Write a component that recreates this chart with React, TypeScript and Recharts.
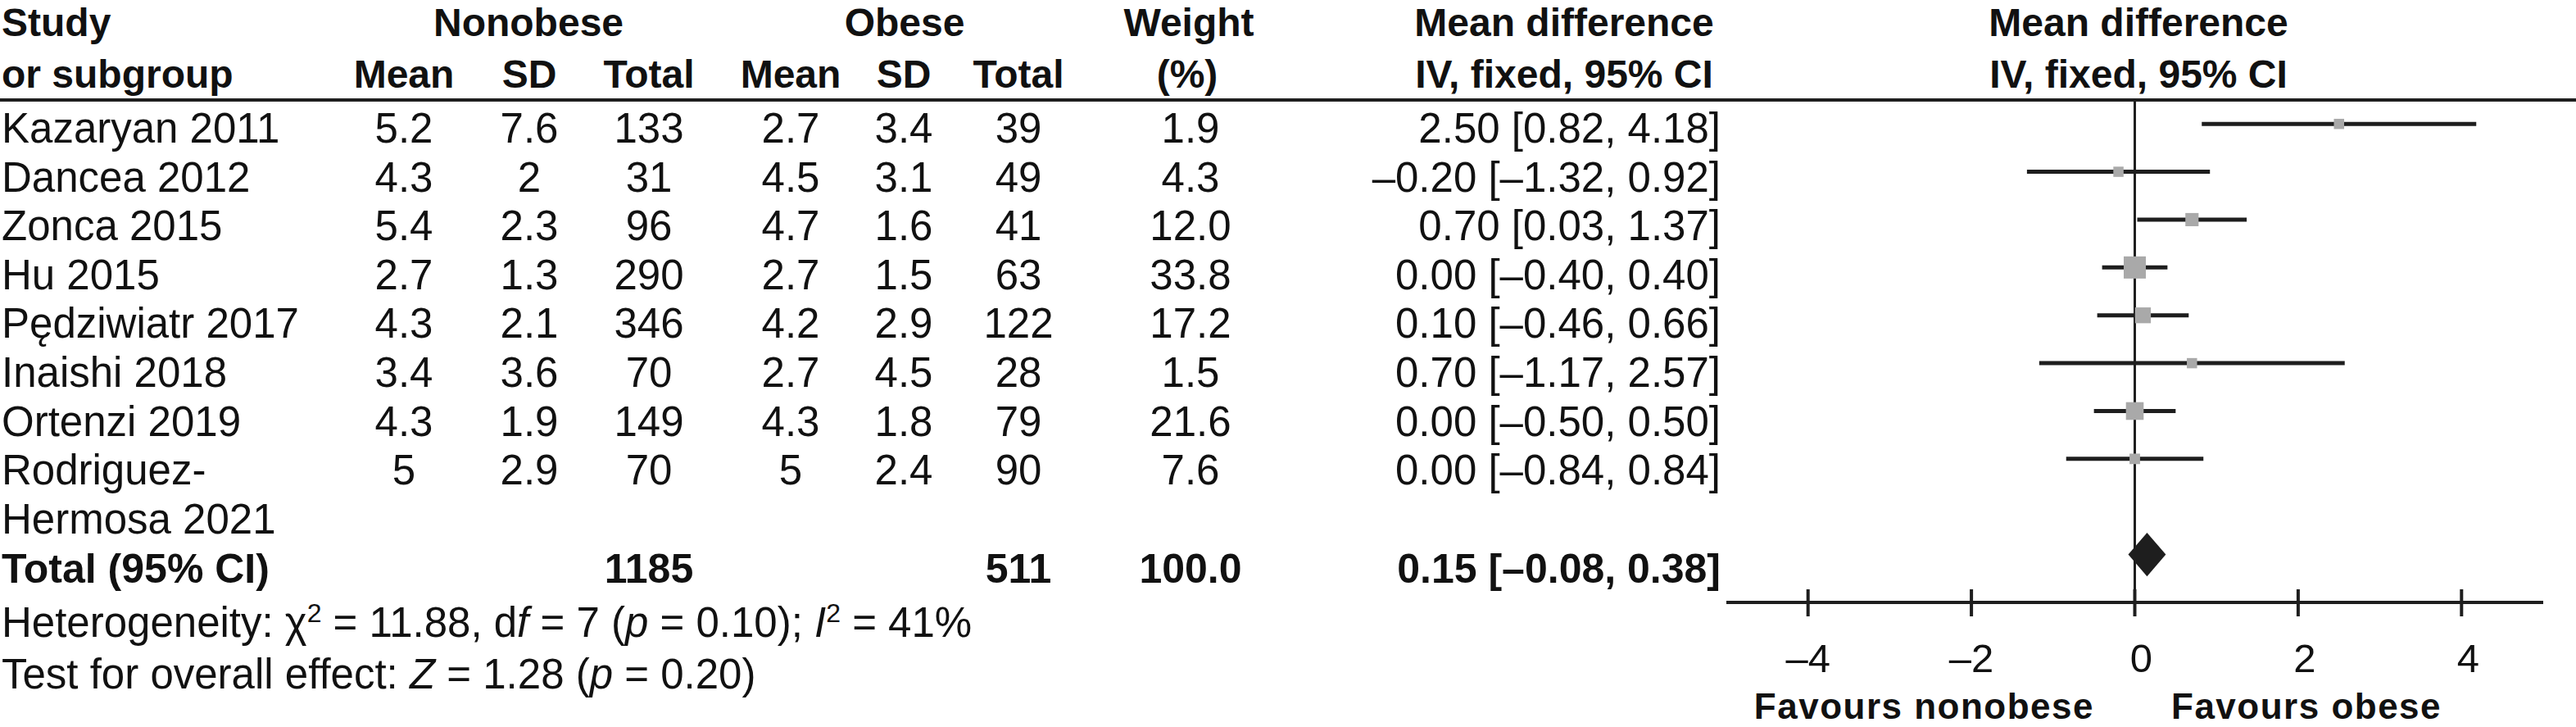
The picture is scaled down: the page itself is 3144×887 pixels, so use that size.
import React from 'react';
import { ScatterChart, Scatter, XAxis, YAxis, ErrorBar } from 'recharts';

// study level data
const studies = [
  'Kazaryan 2011',
  'Dancea 2012',
  'Zonca 2015',
  'Hu 2015',
  'Pędziwiatr 2017',
  'Inaishi 2018',
  'Ortenzi 2019',
  'Rodriguez-Hermosa 2021',
];
const nonobeseMean = [5.2, 4.3, 5.4, 2.7, 4.3, 3.4, 4.3, 5];
const nonobeseSD = [7.6, 2, 2.3, 1.3, 2.1, 3.6, 1.9, 2.9];
const nonobeseTotal = [133, 31, 96, 290, 346, 70, 149, 70];
const obeseMean = [2.7, 4.5, 4.7, 2.7, 4.2, 2.7, 4.3, 5];
const obeseSD = [3.4, 3.1, 1.6, 1.5, 2.9, 4.5, 1.8, 2.4];
const obeseTotal = [39, 49, 41, 63, 122, 28, 79, 90];
const weights = [1.9, 4.3, 12.0, 33.8, 17.2, 1.5, 21.6, 7.6];
const meanDiff = [2.5, -0.2, 0.7, 0, 0.1, 0.7, 0, 0];
const ciLower = [0.82, -1.32, 0.03, -0.4, -0.46, -1.17, -0.5, -0.84];
const ciUpper = [4.18, 0.92, 1.37, 0.4, 0.66, 2.57, 0.5, 0.84];

// pooled result
const totalNonobese = 1185;
const totalObese = 511;
const totalWeight = 100;
const totalMD = 0.15;
const totalLower = -0.08;
const totalUpper = 0.38;

const xTicks = [-4, -2, 0, 2, 4];

// layout
const W = 3144;
const H = 887;
const FONT = '"Liberation Sans", Arial, sans-serif';
const INK = '#1e1e1e';
const COL_X = [493, 646, 792, 965, 1103, 1243, 1453, 2100];
const ROW_DOMAIN: [number, number] = [-0.87, 9.41];
const DIAMOND_HALF = 0.455;

const DASH = '\u2013';
const fmt = (v: number, d: number) => (v < 0 ? DASH : '') + Math.abs(v).toFixed(d);
const ciText = (m: number, lo: number, hi: number) => `${fmt(m, 2)} [${fmt(lo, 2)}, ${fmt(hi, 2)}]`;
const nameLines = (s: string) => {
  const k = s.indexOf('-');
  return s.length > 18 && k > 0 ? [s.slice(0, k + 1), s.slice(k + 1)] : [s];
};

// which table row each study sits on (long names wrap onto a second row)
const studyRow: number[] = [];
let nextRow = 0;
studies.forEach((s) => {
  studyRow.push(nextRow);
  nextRow += nameLines(s).length;
});
const totalRow = nextRow;

const tableRows: any[] = [];
studies.forEach((s, i) => {
  const lines = nameLines(s);
  tableRows.push({
    x: 0,
    y: studyRow[i],
    name: lines[0],
    bold: false,
    cells: [
      String(nonobeseMean[i]),
      String(nonobeseSD[i]),
      String(nonobeseTotal[i]),
      String(obeseMean[i]),
      String(obeseSD[i]),
      String(obeseTotal[i]),
      weights[i].toFixed(1),
      ciText(meanDiff[i], ciLower[i], ciUpper[i]),
    ],
  });
  lines.slice(1).forEach((l, k) => tableRows.push({ x: 0, y: studyRow[i] + k + 1, name: l, bold: false, cells: [] }));
});
tableRows.push({
  x: 0,
  y: totalRow,
  name: 'Total (95% CI)',
  bold: true,
  cells: ['', '', String(totalNonobese), '', '', String(totalObese), totalWeight.toFixed(1), ciText(totalMD, totalLower, totalUpper)],
});

const studyPoints = studies.map((s, i) => ({
  x: meanDiff[i],
  y: studyRow[i],
  weight: weights[i],
  err: [meanDiff[i] - ciLower[i], ciUpper[i] - meanDiff[i]],
}));

const diamondPoints = [
  { x: totalLower, y: totalRow },
  { x: totalMD, y: totalRow - DIAMOND_HALF },
  { x: totalUpper, y: totalRow },
  { x: totalMD, y: totalRow + DIAMOND_HALF },
];

const zeroLine = [
  { x: 0, y: -0.5 },
  { x: 0, y: totalRow + 1 },
];

const Empty = () => <g />;

const Square = (props: any) => {
  const { cx, cy, payload } = props;
  const s = Math.max(12.5, 4.65 * Math.sqrt(payload.weight));
  return <rect x={cx - s / 2} y={cy - s / 2} width={s} height={s} fill="#a9a9a9" />;
};

const Diamond = (props: any) => {
  const pts = (props.points || []).map((p: any) => `${p.x},${p.y}`).join(' ');
  return <polygon points={pts} fill={INK} />;
};

const RowText = (props: any) => {
  const { cy, payload } = props;
  return (
    <g fontFamily={FONT} fontSize={payload.bold ? 50 : 51} fontWeight={payload.bold ? 700 : 400} fill="#111">
      <text x={2} y={cy}>{payload.name}</text>
      {payload.cells.map((c: string, k: number) =>
        c ? (
          <text key={k} x={COL_X[k]} y={cy} textAnchor={k === 7 ? 'end' : 'middle'}>
            {c}
          </text>
        ) : null
      )}
    </g>
  );
};

const XTick = (props: any) => {
  const { x, y, payload } = props;
  const v = payload.value;
  return (
    <g>
      <line x1={x} x2={x} y1={y - 16} y2={y + 17} stroke={INK} strokeWidth={4} />
      <text x={x + (v >= 0 ? 8 : 0)} y={y + 85} textAnchor="middle" fontFamily={FONT} fontSize={49} fill="#111">
        {v < 0 ? DASH + Math.abs(v) : v}
      </text>
    </g>
  );
};

const Header = () => {
  const t = { fontFamily: FONT, fontSize: 48, fontWeight: 700, fill: '#111' } as const;
  return (
    <svg width={W} height={H} style={{ position: 'absolute', left: 0, top: 0, pointerEvents: 'none' }}>
      <g {...t}>
        <text x={2} y={44}>Study</text>
        <text x={2} y={107}>or subgroup</text>
        <text x={645} y={44} textAnchor="middle">Nonobese</text>
        <text x={1104} y={44} textAnchor="middle">Obese</text>
        <text x={1451} y={44} textAnchor="middle">Weight</text>
        <text x={1449} y={107} textAnchor="middle">(%)</text>
        <text x={1909} y={44} textAnchor="middle">Mean difference</text>
        <text x={1909} y={107} textAnchor="middle">IV, fixed, 95% CI</text>
        <text x={2610} y={44} textAnchor="middle">Mean difference</text>
        <text x={2610} y={107} textAnchor="middle">IV, fixed, 95% CI</text>
        <text x={COL_X[0]} y={107} textAnchor="middle">Mean</text>
        <text x={COL_X[1]} y={107} textAnchor="middle">SD</text>
        <text x={COL_X[2]} y={107} textAnchor="middle">Total</text>
        <text x={COL_X[3]} y={107} textAnchor="middle">Mean</text>
        <text x={COL_X[4]} y={107} textAnchor="middle">SD</text>
        <text x={COL_X[5]} y={107} textAnchor="middle">Total</text>
      </g>
      <line x1={0} x2={W} y1={122} y2={122} stroke={INK} strokeWidth={4} />
      <g fontFamily={FONT} fontSize={51} fill="#111">
        <text x={2} y={777}>
          Heterogeneity: χ<tspan dy={-18} fontSize={32}>2</tspan>
          <tspan dy={18}> = 11.88, d</tspan>
          <tspan fontStyle="italic">f</tspan> = 7 (<tspan fontStyle="italic">p</tspan> = 0.10);{' '}
          <tspan fontStyle="italic">I</tspan>
          <tspan dy={-18} fontSize={32}>2</tspan>
          <tspan dy={18}> = 41%</tspan>
        </text>
        <text x={2} y={840}>
          Test for overall effect: <tspan fontStyle="italic">Z</tspan> = 1.28 (<tspan fontStyle="italic">p</tspan> = 0.20)
        </text>
      </g>
      <g fontFamily={FONT} fontSize={44} fontWeight={700} fill="#111" letterSpacing={1.5}>
        <text x={2556} y={877} textAnchor="end">Favours nonobese</text>
        <text x={2650} y={877}>Favours obese</text>
      </g>
    </svg>
  );
};

export default function App() {
  return (
    <div style={{ position: 'absolute', left: 0, top: 0, width: W, height: H, background: '#fff', overflow: 'hidden' }}>
      <ScatterChart width={W} height={H} margin={{ top: 122, right: 40, bottom: 0, left: 2107 }}>
        <XAxis
          type="number"
          dataKey="x"
          domain={[-5, 5]}
          ticks={xTicks}
          height={152}
          tickSize={0}
          tickMargin={0}
          tickLine={false}
          axisLine={{ stroke: INK, strokeWidth: 4 }}
          tick={<XTick />}
          interval={0}
        />
        <YAxis yAxisId="forest" type="number" dataKey="y" domain={[-0.5, totalRow + 1]} reversed hide />
        <YAxis yAxisId="rows" type="number" dataKey="y" domain={ROW_DOMAIN} reversed hide />
        <Scatter
          yAxisId="forest"
          data={zeroLine}
          line={{ stroke: INK, strokeWidth: 3 }}
          shape={Empty}
          isAnimationActive={false}
        />
        <Scatter yAxisId="forest" data={studyPoints} shape={Square} isAnimationActive={false}>
          <ErrorBar dataKey="err" direction="x" width={0} strokeWidth={5} stroke={INK} isAnimationActive={false} />
        </Scatter>
        <Scatter yAxisId="forest" data={diamondPoints} line={Diamond} shape={Empty} isAnimationActive={false} />
        <Scatter yAxisId="rows" data={tableRows} shape={RowText} isAnimationActive={false} />
      </ScatterChart>
      <Header />
    </div>
  );
}
